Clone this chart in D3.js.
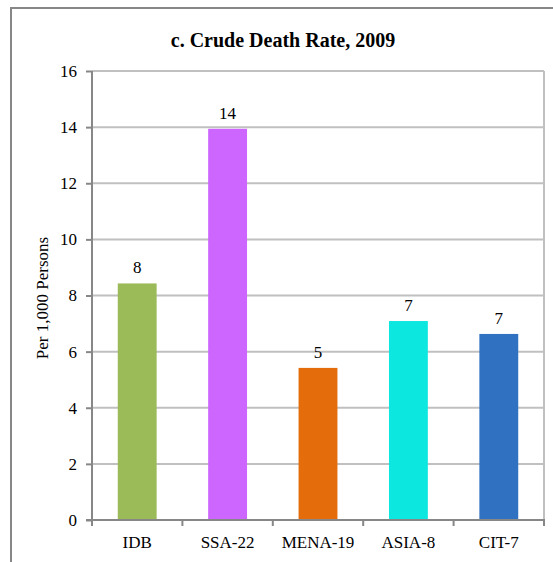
<!DOCTYPE html>
<html>
<head>
<meta charset="utf-8">
<script src="https://cdn.jsdelivr.net/npm/d3@7"></script>
<style>
  body { margin: 0; background: #fff; }
  svg { display: block; font-family: "Liberation Serif", "Times New Roman", serif; }
</style>
</head>
<body>
<script>
// data
var regions = ["IDB", "SSA-22", "MENA-19", "ASIA-8", "CIT-7"]
var deathRate = [8.43, 13.94, 5.42, 7.09, 6.63]
var barColors = ["#9bbb59", "#cc66ff", "#e46c0a", "#0ce8df", "#3071c1"]
var yTicks = [0, 2, 4, 6, 8, 10, 12, 14, 16]

var w = 553, h = 562
var plotL = 92, plotR = 544, plotT = 71, plotB = 520
var fs = "17px"

var svg = d3.select("body").append("svg")
    .attr("width", w).attr("height", h)

// outer frame (only top and left are visible in the crop)
svg.append("rect")
    .attr("x", 11).attr("y", 8)
    .attr("width", w + 20).attr("height", h + 20)
    .attr("fill", "none").attr("stroke", "#878787").attr("stroke-width", 2)

svg.append("text")
    .attr("x", 283).attr("y", 47)
    .attr("text-anchor", "middle")
    .style("font-size", "20px").style("font-weight", "bold")
    .text("c. Crude Death Rate, 2009")

var x = d3.scaleBand().domain(regions).range([plotL, plotR])
var y = d3.scaleLinear().domain([0, 16]).range([plotB, plotT])

// gridlines
svg.append("g").selectAll("line")
    .data(yTicks.filter(function(d) { return d > 0 }))
  .enter().append("line")
    .attr("x1", plotL).attr("x2", plotR)
    .attr("y1", function(d) { return y(d) }).attr("y2", function(d) { return y(d) })
    .attr("stroke", "#c0c0c0").attr("stroke-width", 2)

// right edge of plot area
svg.append("line")
    .attr("x1", plotR).attr("x2", plotR).attr("y1", plotT).attr("y2", plotB)
    .attr("stroke", "#c0c0c0").attr("stroke-width", 2)

// bars
var barW = x.bandwidth() * 0.43
svg.append("g").selectAll("rect")
    .data(deathRate)
  .enter().append("rect")
    .attr("x", function(d, i) { return x(regions[i]) + (x.bandwidth() - barW) / 2 })
    .attr("y", function(d) { return y(d) })
    .attr("width", barW)
    .attr("height", function(d) { return y(0) - y(d) })
    .attr("fill", function(d, i) { return barColors[i] })

// value labels
svg.append("g").selectAll("text")
    .data(deathRate)
  .enter().append("text")
    .attr("x", function(d, i) { return x(regions[i]) + x.bandwidth() / 2 })
    .attr("y", function(d) { return y(d) - 10 })
    .attr("text-anchor", "middle")
    .style("font-size", fs)
    .text(d3.format(".0f"))

// y axis
var yAxis = svg.append("g")
    .attr("transform", "translate(" + plotL + ",0)")
    .call(d3.axisLeft(y).tickValues(yTicks).tickSize(6).tickPadding(9))
yAxis.selectAll("path, line").attr("stroke", "#878787").attr("stroke-width", 2)
yAxis.select("path").attr("d", "M0," + plotT + "V" + plotB)
yAxis.selectAll("text").style("font-size", fs).style("font-family", "Liberation Serif").attr("fill", "#000")

// x axis with ticks between categories
var xAxis = svg.append("g")
    .attr("transform", "translate(0," + plotB + ")")
xAxis.append("line")
    .attr("x1", plotL - 6).attr("x2", plotR + 1)
    .attr("stroke", "#878787").attr("stroke-width", 2)
xAxis.selectAll(".sep")
    .data(regions.concat([null]))
  .enter().append("line")
    .attr("class", "sep")
    .attr("x1", function(d, i) { return plotL + i * x.step() })
    .attr("x2", function(d, i) { return plotL + i * x.step() })
    .attr("y1", 0).attr("y2", 6)
    .attr("stroke", "#878787").attr("stroke-width", 2)
xAxis.selectAll(".lbl")
    .data(regions)
  .enter().append("text")
    .attr("class", "lbl")
    .attr("x", function(d) { return x(d) + x.bandwidth() / 2 })
    .attr("y", 28)
    .attr("text-anchor", "middle")
    .style("font-size", fs)
    .text(function(d) { return d })

svg.append("text")
    .attr("transform", "translate(48,298) rotate(-90)")
    .attr("text-anchor", "middle")
    .style("font-size", fs)
    .text("Per 1,000 Persons")
</script>
</body>
</html>
